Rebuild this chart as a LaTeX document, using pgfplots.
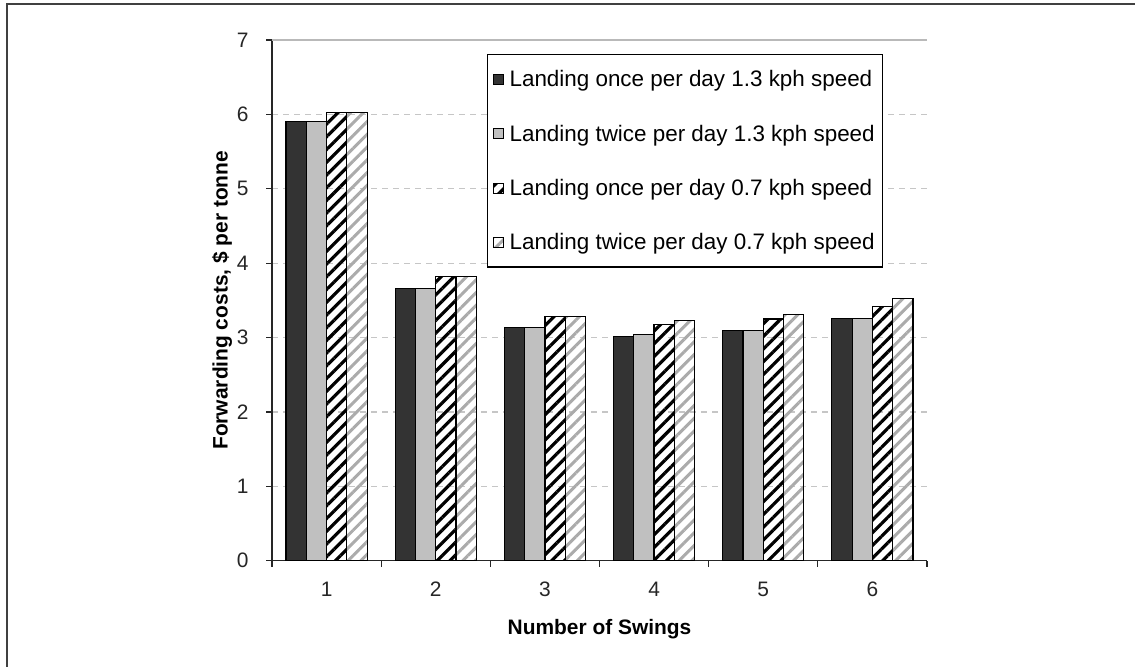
\documentclass[border=0pt]{standalone}
\usepackage{fontspec}
\setmainfont{Liberation Sans}
\usepackage{pgfplots}
\pgfplotsset{compat=1.18}
\usetikzlibrary{patterns.meta}
\definecolor{darkbar}{HTML}{333333}
\definecolor{lightbar}{HTML}{C0C0C0}
\definecolor{hatchgray}{HTML}{ABABAB}
\begin{document}
\begin{tikzpicture}
\useasboundingbox (0,0) rectangle (1135bp,667bp);
\fill[white] (0,0) rectangle (1135bp,667bp);
\draw[line width=2bp, black!75] (7bp,0) -- (7bp,663bp) -- (1135bp,663bp);
\begin{axis}[
  at={(272bp,106.3bp)}, anchor=south west,
  scale only axis, width=655bp, height=520.7bp,
  ybar=0pt, bar width=20.3bp,
  xmin=0.5, xmax=6.5, ymin=0, ymax=7,
  axis lines*=left,
  axis line style={-, black!85, line width=1.3bp},
  xtick={1,2,3,4,5,6},
  minor xtick={0.5,1.5,2.5,3.5,4.5,5.5,6.5},
  major x tick style={draw=none},
  minor x tick style={black!85, line width=1.3bp},
  minor tick length=6bp,
  tick align=outside,
  ytick={0,1,2,3,4,5,6,7},
  major y tick style={black!85, line width=1.3bp},
  major tick length=6bp,
  ymajorgrids,
  major grid style={gray!45, line width=1.2bp, dash pattern=on 6bp off 5bp},
  /pgf/number format/assume math mode=true,
  tick label style={font=\fontsize{21}{24}\selectfont, text=black!85},
  xticklabel style={yshift=-12bp},
  yticklabel style={xshift=-14bp},
  xlabel={\bfseries Number of Swings},
  ylabel={\bfseries Forwarding costs, \$ per tonne},
  label style={font=\fontsize{21}{24}\selectfont},
  xlabel style={yshift=-15bp},
  ylabel style={yshift=-2bp},
  legend cell align=left,
  legend style={at={(axis description cs:0.328,0.973)}, anchor=north west,
    draw=black, line width=1.3bp, font=\fontsize{22.5}{26}\selectfont,
    row sep=32.5bp, inner xsep=6bp, inner ysep=14bp},
  legend image code/.code={\draw[#1, draw=black, line width=1bp] (0bp,-5bp) rectangle (10bp,5bp); \path (13bp,0bp);},
]
\draw[gray!55, line width=1.2bp] (axis cs:0.5,7) -- (axis cs:6.5,7);
\addplot[fill=darkbar, draw=black, line width=1.2bp] coordinates {(1,5.90) (2,3.66) (3,3.13) (4,3.01) (5,3.10) (6,3.26)};
\addplot[fill=lightbar, draw=black, line width=1.2bp] coordinates {(1,5.90) (2,3.66) (3,3.13) (4,3.04) (5,3.10) (6,3.26)};
\addplot[pattern={Lines[angle=45, distance=9bp, line width=3.2bp]}, pattern color=black, draw=black, line width=1.2bp] coordinates {(1,6.03) (2,3.82) (3,3.28) (4,3.18) (5,3.25) (6,3.42)};
\addplot[pattern={Lines[angle=45, distance=9bp, line width=3bp]}, pattern color=hatchgray, draw=black, line width=1.2bp] coordinates {(1,6.03) (2,3.82) (3,3.28) (4,3.23) (5,3.31) (6,3.53)};
\legend{Landing once per day 1.3 kph speed, Landing twice per day 1.3 kph speed, Landing once per day 0.7 kph speed, Landing twice per day 0.7 kph speed}
\end{axis}
\end{tikzpicture}
\end{document}
